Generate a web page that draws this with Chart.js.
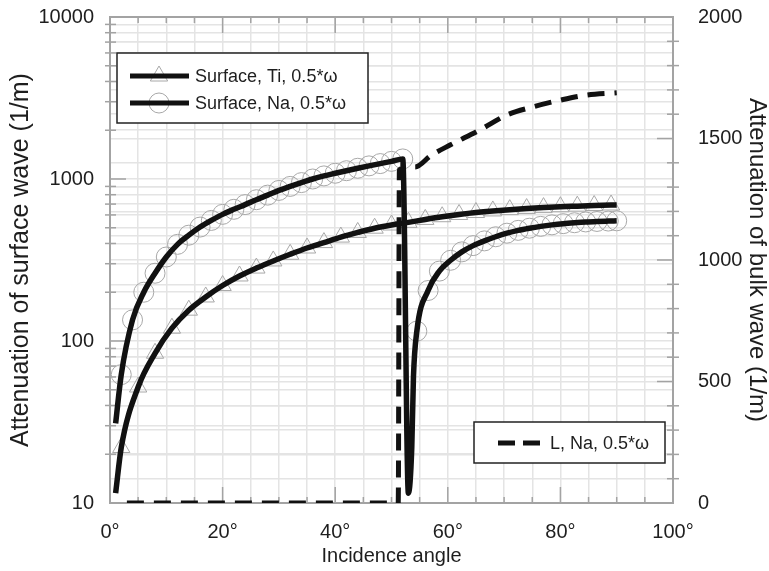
<!DOCTYPE html>
<html>
<head>
<meta charset="utf-8">
<script src="https://cdn.jsdelivr.net/npm/chart.js@4.4.1/dist/chart.umd.min.js"></script>
<style>
  html, body { margin: 0; padding: 0; background: #fff; }
  #wrap { width: 769px; height: 571px; }
</style>
</head>
<body>
<div id="wrap"><canvas id="attChart"></canvas></div>
<script>
// surface wave, Ti (left axis, log)
const tiAngles = [1, 2, 5, 8, 11, 14, 17, 20, 23, 26, 29, 32, 35, 38, 41, 44, 47, 50, 53, 56, 59, 62, 65, 68, 71, 74, 77, 80, 83, 86, 89, 90];
const tiValues = [11.5, 22, 52, 84, 120, 155, 187, 220, 252, 282, 312, 343, 375, 405, 438, 468, 497, 520, 540, 563, 585, 604, 621, 635, 647, 657, 666, 674, 680, 686, 691, 692];

// surface wave, Na (left axis, log)
const naAngles = [1, 2, 4, 6, 8, 10, 12, 14, 16, 18, 20, 22, 24, 26, 28, 30, 32, 34, 36, 38, 40, 42, 44, 46, 48, 50, 52,
  53, 53.6, 53.9, 54.5, 56.5, 58.5, 60.5, 62.5, 64.5, 66.5, 68.5, 70.5, 72.5, 74.5, 76.5, 78.5, 80.5, 82.5, 84.5, 86.5, 88.5, 90];
const naValues = [31, 62, 135, 200, 262, 330, 395, 450, 505, 555, 605, 650, 695, 745, 795, 850, 900, 950, 1000, 1045, 1085, 1125, 1165, 1205, 1245, 1285, 1330,
  11.5, 22, 60, 115, 205, 270, 315, 355, 388, 415, 440, 463, 482, 497, 510, 521, 530, 537, 543, 547, 550, 552];

// bulk wave, L, Na (right axis, linear)
const bulkAngles = [3, 51.2, 51.4, 54.2, 57, 60.4, 65.7, 70.5, 75.1, 80, 84.7, 90];
const bulkValues = [0, 0, 1372, 1383, 1430, 1473, 1535, 1597, 1630, 1658, 1679, 1688];

const angleLabels = [0, 20, 40, 60, 80, 100];
const surfaceLabels = [10, 100, 1000, 10000];
const bulkLabels = [0, 500, 1000, 1500, 2000];

const legendTop = ['Surface, Ti, 0.5*\u03c9', 'Surface, Na, 0.5*\u03c9'];
const legendBottom = ['L, Na, 0.5*\u03c9'];

const FONT = "'Liberation Sans', Arial, sans-serif";
const INK = '#1e1e1e';
const AXIS = '#a3a3a3';
const GRID = '#e4e4e4';

Chart.defaults.font.family = FONT;
Chart.defaults.color = INK;

const toPoints = (xs, ys) => xs.map((x, i) => ({ x: x, y: ys[i] }));

// gridlines at 1..9 of every decade
const logGrid = [];
for (let d = 10; d < 10000; d *= 10) {
  for (let m = 1; m <= 9; m++) logGrid.push(d * m);
}
logGrid.push(10000);

// fixed side widths; label overhang must not push the plot down
const fixWidth = w => s => {
  s.width = w;
  s.paddingTop = 0;
  s.paddingBottom = 0;
};

function segment(ctx, x1, y1, x2, y2) {
  ctx.beginPath();
  ctx.moveTo(x1, y1);
  ctx.lineTo(x2, y2);
  ctx.stroke();
}

function drawMarker(ctx, style, x, y) {
  ctx.save();
  ctx.strokeStyle = '#a8a8a8';
  ctx.lineWidth = 1;
  ctx.beginPath();
  if (style === 'circle') {
    ctx.arc(x, y, 10, 0, Math.PI * 2);
  } else {
    const r = 10;
    for (let k = 0; k < 3; k++) {
      const a = k * 2 * Math.PI / 3;
      const px = x + Math.sin(a) * r, py = y - Math.cos(a) * r;
      if (k === 0) ctx.moveTo(px, py); else ctx.lineTo(px, py);
    }
    ctx.closePath();
  }
  ctx.stroke();
  ctx.restore();
}

const framePlugin = {
  id: 'frame',
  beforeDatasetsDraw(chart) {
    const { ctx, chartArea: a, scales } = chart;
    ctx.save();
    ctx.strokeStyle = AXIS;
    ctx.lineWidth = 1.5;

    scales.x.ticks.forEach(t => {
      const px = scales.x.getPixelForValue(t.value);
      const len = angleLabels.includes(t.value) ? 16 : 6;
      segment(ctx, px, a.bottom, px, a.bottom - len);
      segment(ctx, px, a.top, px, a.top + len);
    });
    scales.yL.ticks.forEach(t => {
      const py = scales.yL.getPixelForValue(t.value);
      const major = surfaceLabels.includes(t.value);
      segment(ctx, a.left - (major ? 0 : 5), py, a.left + (major ? 16 : 6), py);
    });
    scales.yR.ticks.forEach(t => {
      const py = scales.yR.getPixelForValue(t.value);
      const major = bulkLabels.includes(t.value);
      segment(ctx, a.right + (major ? 0 : 6), py, a.right - (major ? 16 : 6), py);
    });

    ctx.lineWidth = 2;
    ctx.strokeRect(a.left, a.top, a.right - a.left, a.bottom - a.top);
    ctx.restore();
  },
  afterDraw(chart) {
    const { ctx, chartArea: a } = chart;
    ctx.save();
    ctx.font = '18px ' + FONT;
    ctx.textBaseline = 'middle';

    // upper-left key: the two surface waves
    const bx = a.left + 7, by = a.top + 36, bw = 251, bh = 70;
    ctx.fillStyle = '#fff';
    ctx.fillRect(bx, by, bw, bh);
    ctx.strokeStyle = '#222';
    ctx.lineWidth = 1.5;
    ctx.strokeRect(bx, by, bw, bh);
    ['triangle', 'circle'].forEach((style, i) => {
      const y = by + 23 + i * 27;
      drawMarker(ctx, style, bx + 42, y);
      ctx.strokeStyle = '#111';
      ctx.lineWidth = 5;
      segment(ctx, bx + 13, y, bx + 72, y);
      ctx.fillStyle = INK;
      ctx.fillText(legendTop[i], bx + 78, y + 1);
    });

    // lower-right key: the bulk wave
    const cx = a.left + 364, cy = a.bottom - 81, cw = 191, ch = 41;
    ctx.fillStyle = '#fff';
    ctx.fillRect(cx, cy, cw, ch);
    ctx.strokeStyle = '#222';
    ctx.lineWidth = 1.5;
    ctx.strokeRect(cx, cy, cw, ch);
    ctx.strokeStyle = '#111';
    ctx.lineWidth = 5;
    ctx.setLineDash([17, 8]);
    segment(ctx, cx + 24, cy + 21, cx + 66, cy + 21);
    ctx.setLineDash([]);
    ctx.fillStyle = INK;
    ctx.fillText(legendBottom[0], cx + 76, cy + 22);
    ctx.restore();
  }
};

const hideEnds = (lo, hi) => ctx => {
  const p = ctx.raw;
  if (!p) return 0;
  return (p.x < lo || p.x > hi) ? 0 : 10;
};

new Chart(document.getElementById('attChart'), {
  type: 'line',
  data: {
    datasets: [
      {
        label: 'Surface, Na, 0.5*\u03c9',
        data: toPoints(naAngles, naValues),
        yAxisID: 'yL',
        borderColor: '#111',
        borderWidth: 5.5,
        pointRadius: 0,
        cubicInterpolationMode: 'monotone',
        fill: false
      },
      {
        label: 'Surface, Ti, 0.5*\u03c9',
        data: toPoints(tiAngles, tiValues),
        yAxisID: 'yL',
        borderColor: '#111',
        borderWidth: 5.5,
        pointRadius: 0,
        cubicInterpolationMode: 'monotone',
        fill: false
      },
      {
        label: 'L, Na, 0.5*\u03c9',
        data: toPoints(bulkAngles, bulkValues),
        yAxisID: 'yR',
        borderColor: '#111',
        borderWidth: 5,
        borderDash: [17, 10],
        borderCapStyle: 'butt',
        pointRadius: 0,
        cubicInterpolationMode: 'monotone',
        fill: false
      },
      {
        label: 'Na marks',
        data: toPoints(naAngles, naValues),
        yAxisID: 'yL',
        showLine: false,
        pointStyle: 'circle',
        pointRadius: ctx => {
          const p = ctx.raw;
          if (!p) return 0;
          return (p.x < 1.5 || (p.x > 52.5 && p.x < 54.4)) ? 0 : 10;
        },
        pointBorderColor: '#a8a8a8',
        pointBackgroundColor: 'rgba(0,0,0,0)',
        pointBorderWidth: 1
      },
      {
        label: 'Ti marks',
        data: toPoints(tiAngles, tiValues),
        yAxisID: 'yL',
        showLine: false,
        pointStyle: 'triangle',
        pointRadius: hideEnds(1.5, 89.5),
        pointBorderColor: '#a8a8a8',
        pointBackgroundColor: 'rgba(0,0,0,0)',
        pointBorderWidth: 1
      }
    ]
  },
  options: {
    responsive: true,
    maintainAspectRatio: false,
    animation: false,
    layout: { padding: { top: 17, left: 0, right: 0, bottom: 0 } },
    plugins: { legend: { display: false }, tooltip: { enabled: false } },
    scales: {
      x: {
        type: 'linear',
        min: 0,
        max: 100,
        afterFit: s => { s.height = 68; },
        border: { display: false },
        grid: { color: GRID, lineWidth: 1.5, drawTicks: false },
        ticks: {
          stepSize: 5,
          autoSkip: false,
          maxRotation: 0,
          padding: 17,
          font: { size: 20 },
          callback: v => angleLabels.includes(v) ? v + '\u00b0' : ''
        },
        title: { display: true, text: 'Incidence angle', font: { size: 20 }, padding: { top: 0, bottom: 3 } }
      },
      yL: {
        type: 'logarithmic',
        position: 'left',
        min: 10,
        max: 10000,
        afterBuildTicks: s => { s.ticks = logGrid.map(v => ({ value: v })); },
        afterFit: fixWidth(110),
        border: { display: false },
        grid: { color: GRID, lineWidth: 1.5, drawTicks: false },
        ticks: {
          autoSkip: false,
          padding: 16,
          font: { size: 20 },
          callback: v => surfaceLabels.includes(v) ? String(v) : ''
        },
        title: { display: true, text: 'Attenuation of surface wave (1/m)', font: { size: 25, lineHeight: 1 }, padding: { top: 9, bottom: 0 } }
      },
      yR: {
        type: 'linear',
        position: 'right',
        min: 0,
        max: 2000,
        afterFit: fixWidth(96),
        border: { display: false },
        grid: { color: GRID, lineWidth: 1.5, drawTicks: false },
        ticks: {
          stepSize: 100,
          autoSkip: false,
          padding: 25,
          font: { size: 20 },
          callback: v => bulkLabels.includes(v) ? String(v) : ''
        },
        title: { display: true, text: 'Attenuation of bulk wave (1/m)', font: { size: 24, lineHeight: 1 }, padding: { top: 0, bottom: 0 } }
      }
    }
  },
  plugins: [framePlugin]
});
</script>
</body>
</html>
